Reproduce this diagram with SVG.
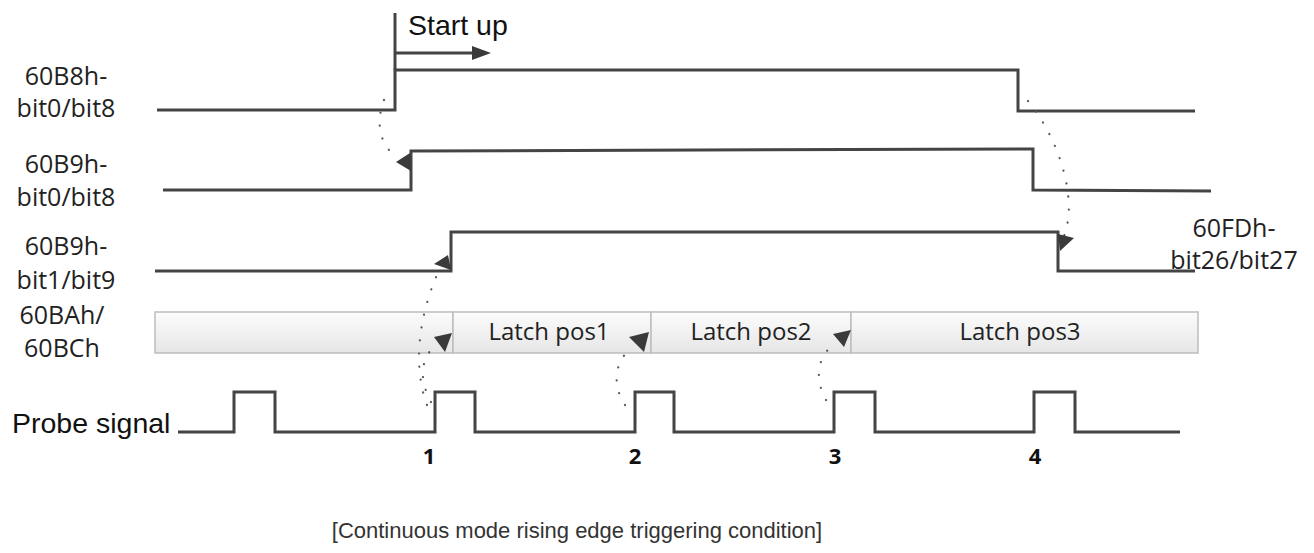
<svg xmlns="http://www.w3.org/2000/svg" width="1314" height="553" viewBox="0 0 1314 553">
<defs>
<linearGradient id="barg" x1="0" y1="0" x2="0" y2="1">
<stop offset="0" stop-color="#fcfcfc"/>
<stop offset="1" stop-color="#e6e6e6"/>
</linearGradient>
<style>
.sig{fill:none;stroke:#444;stroke-width:3;stroke-linejoin:miter}
.dot{fill:none;stroke:#555;stroke-width:2.2;stroke-dasharray:0.1 13;stroke-linecap:round}
.ah{fill:#3a3a3a}
.lbl{font-family:"Open Sans","DejaVu Sans",sans-serif;font-size:25px;fill:#222;text-anchor:middle}
.bar{fill:url(#barg);stroke:#bdbdbd;stroke-width:1.5}
.bt{font-family:"Open Sans","DejaVu Sans",sans-serif;font-size:24px;fill:#222;text-anchor:middle}
.num{font-family:"Open Sans","DejaVu Sans",sans-serif;font-size:22px;font-weight:bold;fill:#111;text-anchor:middle}
.ar{font-family:"Liberation Sans",Arial,sans-serif;fill:#111}
</style>
</defs>
<rect width="1314" height="553" fill="#fff"/>

<g id="start-up">
<path class="sig" d="M395,13 V70"/>
<path class="sig" d="M395,53 H476"/>
<polygon class="ah" points="472,46 491,53 472,60"/>
<text class="ar" x="408" y="35" font-size="28.5">Start up</text>
</g>

<g id="sig-60B8h">
<text class="lbl" x="66" y="85">60B8h-</text>
<text class="lbl" x="66" y="117">bit0/bit8</text>
<path class="sig" d="M157,110 H395 V70 H1018 V111 H1195"/>
</g>

<g id="sig-60B9h-0">
<text class="lbl" x="66" y="173">60B9h-</text>
<text class="lbl" x="66" y="206">bit0/bit8</text>
<path class="sig" d="M163,190 H411 V151 L1033,149 V190 L1211,191"/>
</g>

<g id="sig-60B9h-1">
<text class="lbl" x="66" y="255">60B9h-</text>
<text class="lbl" x="66" y="289">bit1/bit9</text>
<path class="sig" d="M155,271 H451 V232 H1058 V271 H1195"/>
</g>

<g id="lbl-60FDh">
<text class="lbl" x="1234" y="237" font-size="24.5">60FDh-</text>
<text class="lbl" x="1234" y="269" font-size="24.5">bit26/bit27</text>
</g>

<g id="latch-bar">
<text class="lbl" x="62" y="324">60BAh/</text>
<text class="lbl" x="62" y="357">60BCh</text>
<rect class="bar" x="155" y="312" width="298" height="41"/>
<rect class="bar" x="453" y="312" width="198" height="41"/>
<rect class="bar" x="651" y="312" width="200" height="41"/>
<rect class="bar" x="851" y="312" width="347" height="41"/>
<text class="bt" x="549" y="340">Latch pos1</text>
<text class="bt" x="751" y="340">Latch pos2</text>
<text class="bt" x="1020" y="340">Latch pos3</text>
</g>

<g id="probe">
<text class="ar" x="12" y="433" font-size="28.5">Probe signal</text>
<path class="sig" d="M178,432 H234 V392 H275 V432 H435 V392 H475 V432 H635 V392 H674 V432 H834 V392 H875 V432 H1034 V392 H1075 V432 H1180"/>
<text class="num" x="429" y="464">1</text>
<text class="num" x="635" y="464">2</text>
<text class="num" x="835" y="464">3</text>
<text class="num" x="1035" y="464">4</text>
</g>

<g id="connectors">
<path class="dot" d="M384,100 C376,120 378,145 398,158"/>
<polygon class="ah" points="410,153 396,162 411,171"/>
<path class="dot" d="M1028,101 C1060,140 1078,200 1064,236"/>
<polygon class="ah" points="1058,234 1074,238 1060,251"/>
<path class="dot" d="M427,405 C414,370 416,320 440,268"/>
<polygon class="ah" points="448,255 434,264 451,270"/>
<path class="dot" d="M431,402 C419,380 420,358 436,345"/>
<polygon class="ah" points="434,337 452,333 445,352"/>
<path class="dot" d="M625,405 C612,385 614,362 632,347"/>
<polygon class="ah" points="629,337 649,332 644,352"/>
<path class="dot" d="M826,400 C815,380 816,358 834,344"/>
<polygon class="ah" points="833,334 851,330 844,347"/>
</g>

<text class="ar" x="577" y="538" font-size="22" text-anchor="middle" style="fill:#333">[Continuous mode rising edge triggering condition]</text>
</svg>
